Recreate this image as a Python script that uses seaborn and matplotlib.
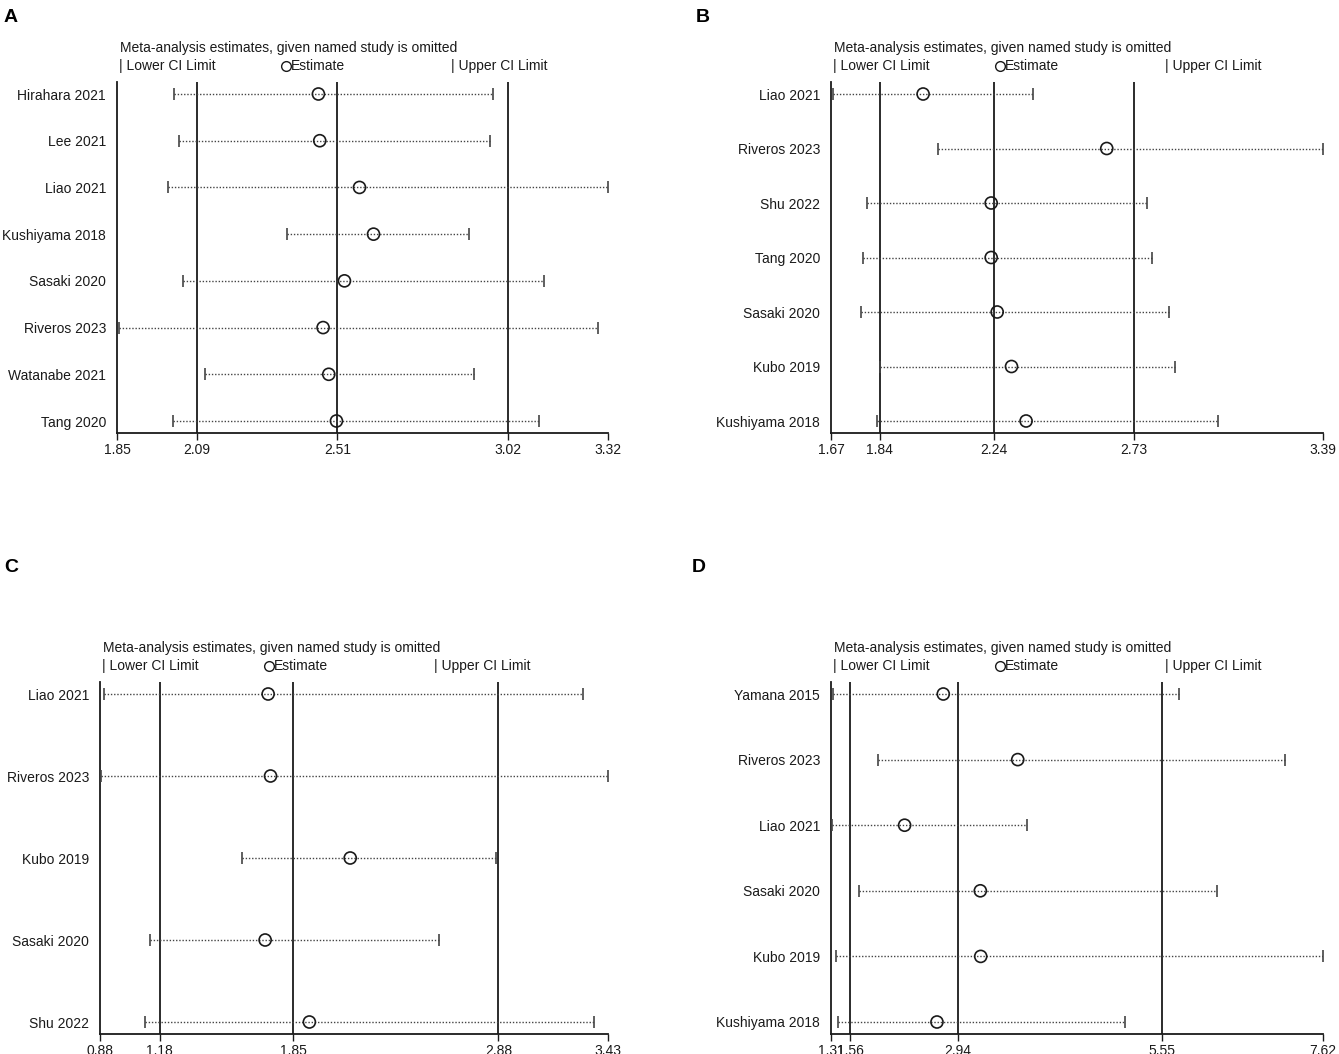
import matplotlib
matplotlib.use("Agg")
import numpy as np
import pandas as pd
import matplotlib.pyplot as plt
import seaborn as sns
from matplotlib.lines import Line2D

# panel A
a_studies = ["Hirahara 2021", "Lee 2021", "Liao 2021", "Kushiyama 2018",
             "Sasaki 2020", "Riveros 2023", "Watanabe 2021", "Tang 2020"]
a_est = [2.453, 2.457, 2.576, 2.618, 2.531, 2.467, 2.484, 2.507]
a_lower = [2.021, 2.036, 2.003, 2.360, 2.049, 1.856, 2.114, 2.018]
a_upper = [2.976, 2.968, 3.320, 2.905, 3.127, 3.291, 2.920, 3.114]
a_ticks = [1.85, 2.09, 2.51, 3.02, 3.32]

# panel B
b_studies = ["Liao 2021", "Riveros 2023", "Shu 2022", "Tang 2020",
             "Sasaki 2020", "Kubo 2019", "Kushiyama 2018"]
b_est = [1.992, 2.634, 2.230, 2.230, 2.251, 2.301, 2.352]
b_lower = [1.677, 2.045, 1.795, 1.782, 1.776, 1.841, 1.830]
b_upper = [2.377, 3.390, 2.774, 2.792, 2.850, 2.872, 3.024]
b_ticks = [1.67, 1.84, 2.24, 2.73, 3.39]

# panel C
c_studies = ["Liao 2021", "Riveros 2023", "Kubo 2019", "Sasaki 2020", "Shu 2022"]
c_est = [1.724, 1.736, 2.136, 1.709, 1.931]
c_lower = [0.899, 0.886, 1.595, 1.129, 1.106]
c_upper = [3.305, 3.430, 2.868, 2.584, 3.360]
c_ticks = [0.88, 1.18, 1.85, 2.88, 3.43]

# panel D
d_studies = ["Yamana 2015", "Riveros 2023", "Liao 2021", "Sasaki 2020",
             "Kubo 2019", "Kushiyama 2018"]
d_est = [2.750, 3.705, 2.254, 3.225, 3.230, 2.669]
d_lower = [1.337, 1.919, 1.321, 1.666, 1.375, 1.396]
d_upper = [5.770, 7.135, 3.829, 6.256, 7.620, 5.085]
d_ticks = [1.31, 1.56, 2.94, 5.55, 7.62]

sns.set_theme(style="white")
plt.rcParams["font.family"] = ["Liberation Sans", "DejaVu Sans"]

W, H = 1339, 1054
fig = plt.figure(figsize=(W / 100, H / 100), dpi=100)
ink = "#1a1a1a"


def fx(px):
    return px / W


def fy(py):
    return 1 - py / H


def panel(letter, letter_xy, left, right, top, bottom,
          studies, est, lower, upper, ticks):
    ax = fig.add_axes([fx(left), fy(bottom), fx(right - left), (bottom - top) / H])
    n = len(studies)
    df = pd.DataFrame({"study": studies, "est": est, "lower": lower,
                       "upper": upper, "row": np.arange(n)})

    for t in ticks[1:4]:
        ax.axvline(t, color=ink, lw=1.3, zorder=1)

    eb = ax.errorbar(df["est"], df["row"],
                     xerr=[df["est"] - df["lower"], df["upper"] - df["est"]],
                     fmt="none", ecolor="#444444", elinewidth=1.0,
                     capsize=4, capthick=1.2, zorder=3)
    eb[2][0].set_linestyle((0, (1, 1.3)))

    sns.scatterplot(data=df, x="est", y="row", ax=ax, marker="o", s=75,
                    color=ink, facecolor="none", edgecolor=ink,
                    linewidth=1.2, zorder=5, legend=False)

    spacing = (bottom - top - 24) / (n - 1)
    pad = 12 / spacing
    ax.set_ylim(n - 1 + pad, -pad)
    ax.set_xlim(ticks[0], ticks[-1])
    ax.set_xticks(ticks)
    ax.set_xticklabels([f"{t:.2f}" for t in ticks])
    ax.set_yticks(df["row"])
    ax.set_yticklabels(studies)
    ax.set_xlabel("")
    ax.set_ylabel("")
    ax.tick_params(axis="x", bottom=True, direction="out", length=5,
                   width=1, pad=2, labelsize=10, colors=ink)
    ax.tick_params(axis="y", left=False, length=0, pad=8, labelsize=10,
                   colors=ink)
    for s in ["top", "right"]:
        ax.spines[s].set_visible(False)
    for s in ["left", "bottom"]:
        ax.spines[s].set_color(ink)
        ax.spines[s].set_linewidth(1.3)
    ax.grid(False)

    # header and legend
    fig.text(fx(left + 3), fy(top - 34),
             "Meta-analysis estimates, given named study is omitted",
             fontsize=10, va="center", ha="left", color=ink)
    ly = top - 16
    fig.text(fx(left + 2), fy(ly), "| Lower CI Limit", fontsize=10,
             va="center", ha="left", color=ink)
    fig.add_artist(Line2D([fx(left + 169)], [fy(ly)], marker="o",
                          markersize=7, markerfacecolor="none",
                          markeredgecolor=ink, markeredgewidth=1.0,
                          transform=fig.transFigure))
    fig.text(fx(left + 174), fy(ly), "Estimate", fontsize=10,
             va="center", ha="left", color=ink)
    fig.text(fx(left + 334), fy(ly), "| Upper CI Limit", fontsize=10,
             va="center", ha="left", color=ink)

    fig.text(fx(letter_xy[0]), fy(letter_xy[1]), letter, fontsize=14,
             fontweight="bold", va="center", ha="left", color="black")
    return ax


panel("A", (4, 18), 117, 608, 82, 433, a_studies, a_est, a_lower, a_upper, a_ticks)
panel("B", (696, 18), 831, 1323, 82, 433, b_studies, b_est, b_lower, b_upper, b_ticks)
panel("C", (4, 568), 100, 608, 682, 1034, c_studies, c_est, c_lower, c_upper, c_ticks)
panel("D", (692, 568), 831, 1323, 682, 1034, d_studies, d_est, d_lower, d_upper, d_ticks)

fig.savefig("out.png", dpi=100)
